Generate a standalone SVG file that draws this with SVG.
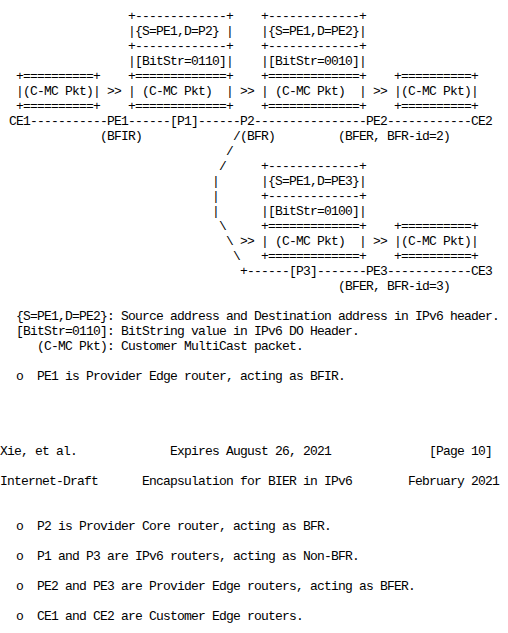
<svg xmlns="http://www.w3.org/2000/svg" width="508" height="633" viewBox="0 0 508 633" xml:space="preserve">
<style>
text { font-family: "Liberation Mono", "DejaVu Sans Mono", monospace; font-size: 13px; letter-spacing: -0.8px; fill: #000; white-space: pre; }
</style>
<rect width="508" height="633" fill="#fff"/>
<g id="pkt-ce1-pe1">
<text x="16" y="80">+==========+</text>
<text x="16" y="95">|(C-MC Pkt)|</text>
<text x="16" y="110">+==========+</text>
</g>
<g id="pkt-pe1-p2">
<text x="128" y="20">+-------------+</text>
<text x="128" y="35">|{S=PE1,D=P2} |</text>
<text x="128" y="50">+-------------+</text>
<text x="128" y="65">|[BitStr=0110]|</text>
<text x="128" y="80">+=============+</text>
<text x="128" y="95">| (C-MC Pkt)  |</text>
<text x="128" y="110">+=============+</text>
</g>
<g id="pkt-p2-pe2">
<text x="261" y="20">+-------------+</text>
<text x="261" y="35">|{S=PE1,D=PE2}|</text>
<text x="261" y="50">+-------------+</text>
<text x="261" y="65">|[BitStr=0010]|</text>
<text x="261" y="80">+=============+</text>
<text x="261" y="95">| (C-MC Pkt)  |</text>
<text x="261" y="110">+=============+</text>
</g>
<g id="pkt-pe2-ce2">
<text x="394" y="80">+==========+</text>
<text x="394" y="95">|(C-MC Pkt)|</text>
<text x="394" y="110">+==========+</text>
</g>
<g id="pkt-p2-pe3">
<text x="261" y="170">+-------------+</text>
<text x="261" y="185">|{S=PE1,D=PE3}|</text>
<text x="261" y="200">+-------------+</text>
<text x="261" y="215">|[BitStr=0100]|</text>
<text x="261" y="230">+=============+</text>
<text x="261" y="245">| (C-MC Pkt)  |</text>
<text x="261" y="260">+=============+</text>
</g>
<g id="pkt-pe3-ce3">
<text x="394" y="230">+==========+</text>
<text x="394" y="245">|(C-MC Pkt)|</text>
<text x="394" y="260">+==========+</text>
</g>
<g id="node-ce1"><text x="9" y="125">CE1</text></g>
<g id="node-pe1"><text x="107" y="125">PE1</text><text x="100" y="140">(BFIR)</text></g>
<g id="node-p1"><text x="170" y="125">[P1]</text></g>
<g id="node-p2"><text x="240" y="125">P2</text><text x="240" y="140">(BFR)</text></g>
<g id="node-pe2"><text x="366" y="125">PE2</text><text x="338" y="140">(BFER, BFR-id=2)</text></g>
<g id="node-ce2"><text x="471" y="125">CE2</text></g>
<g id="node-p3"><text x="289" y="275">[P3]</text></g>
<g id="node-pe3"><text x="366" y="275">PE3</text><text x="338" y="290">(BFER, BFR-id=3)</text></g>
<g id="node-ce3"><text x="471" y="275">CE3</text></g>
<g id="connectors">
<text x="30" y="125">-----------</text>
<text x="128" y="125">------</text>
<text x="198" y="125">------</text>
<text x="254" y="125">----------------</text>
<text x="387" y="125">------------</text>
<text x="233" y="140">/</text>
<text x="226" y="155">/</text>
<text x="219" y="170">/</text>
<text x="212" y="185">|</text>
<text x="212" y="200">|</text>
<text x="212" y="215">|</text>
<text x="219" y="230">\</text>
<text x="226" y="245">\</text>
<text x="233" y="260">\</text>
<text x="240" y="275">+------</text>
<text x="317" y="275">-------</text>
<text x="387" y="275">------------</text>
<text x="107" y="95">&gt;&gt;</text>
<text x="240" y="95">&gt;&gt;</text>
<text x="373" y="95">&gt;&gt;</text>
<text x="240" y="245">&gt;&gt;</text>
<text x="373" y="245">&gt;&gt;</text>
</g>
<g id="legend">
<text x="16" y="320">{S=PE1,D=PE2}: Source address and Destination address in IPv6 header.</text>
<text x="16" y="335">[BitStr=0110]: BitString value in IPv6 DO Header.</text>
<text x="37" y="350">(C-MC Pkt): Customer MultiCast packet.</text>
<text x="16" y="380">o  PE1 is Provider Edge router, acting as BFIR.</text>
</g>
<g id="page-break">
<text x="0" y="455">Xie, et al.</text>
<text x="170" y="455">Expires August 26, 2021</text>
<text x="429" y="455">[Page 10]</text>
<text x="0" y="485">Internet-Draft</text>
<text x="142" y="485">Encapsulation for BIER in IPv6</text>
<text x="408" y="485">February 2021</text>
</g>
<g id="bullets">
<text x="16" y="530">o  P2 is Provider Core router, acting as BFR.</text>
<text x="16" y="560">o  P1 and P3 are IPv6 routers, acting as Non-BFR.</text>
<text x="16" y="590">o  PE2 and PE3 are Provider Edge routers, acting as BFER.</text>
<text x="16" y="620">o  CE1 and CE2 are Customer Edge routers.</text>
</g>
</svg>
